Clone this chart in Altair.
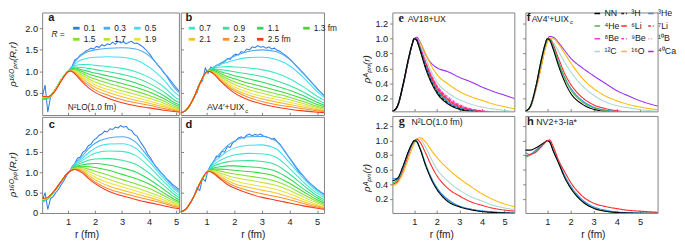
import altair as alt
import pandas as pd

FONT = "Liberation Sans"
SERIF = "Liberation Serif"

# ---------------- panels a-d : rho(R, r) for several R ----------------
R_VALUES = ["0.1", "0.3", "0.5", "0.7", "0.9", "1.1", "1.3", "1.5", "1.7", "1.9", "2.1", "2.3", "2.5"]
R_COLORS = ["#2e7be6", "#4aaaf2", "#3ee0f0", "#3ee8c8", "#38e09a", "#30d862", "#3ed838",
            "#7ee032", "#bce434", "#eee23a", "#f7c030", "#f6902c", "#f03c1e"]

FAN_GRID = [0.05, 0.25, 0.5, 0.75, 1.0, 1.1, 1.25, 1.5, 1.75, 2.0, 2.5, 3.0, 3.5, 4.0, 4.5, 5.0, 5.3]

PN_N2LO = {  # panel a
    "0.3": [0.36, 0.37, 0.55, 0.81, 1.00, 1.05, 1.22, 1.38, 1.46, 1.50, 1.54, 1.55, 1.52, 1.36, 1.02, 0.57, 0.43],
    "0.5": [0.35, 0.37, 0.55, 0.81, 1.00, 1.05, 1.17, 1.27, 1.31, 1.33, 1.34, 1.33, 1.27, 1.10, 0.83, 0.48, 0.36],
    "0.7": [0.35, 0.37, 0.55, 0.81, 1.00, 1.04, 1.13, 1.16, 1.16, 1.14, 1.11, 1.07, 0.99, 0.86, 0.66, 0.38, 0.29],
    "0.9": [0.35, 0.37, 0.55, 0.81, 1.00, 1.04, 1.10, 1.09, 1.07, 1.04, 0.99, 0.93, 0.85, 0.72, 0.54, 0.31, 0.23],
    "1.1": [0.36, 0.38, 0.55, 0.81, 1.00, 1.03, 1.08, 1.04, 1.00, 0.96, 0.89, 0.82, 0.73, 0.61, 0.45, 0.25, 0.18],
    "1.3": [0.37, 0.38, 0.55, 0.81, 1.00, 1.03, 1.06, 1.00, 0.94, 0.89, 0.80, 0.72, 0.63, 0.52, 0.38, 0.21, 0.15],
    "1.5": [0.38, 0.39, 0.54, 0.80, 1.00, 1.02, 1.04, 0.96, 0.88, 0.82, 0.72, 0.63, 0.54, 0.44, 0.32, 0.17, 0.12],
    "1.7": [0.39, 0.39, 0.54, 0.80, 0.99, 1.02, 1.02, 0.92, 0.83, 0.75, 0.64, 0.55, 0.46, 0.37, 0.27, 0.14, 0.10],
    "1.9": [0.40, 0.40, 0.54, 0.79, 0.99, 1.02, 1.00, 0.88, 0.78, 0.69, 0.57, 0.48, 0.39, 0.31, 0.22, 0.12, 0.08],
    "2.1": [0.41, 0.40, 0.53, 0.79, 0.99, 1.01, 0.98, 0.85, 0.73, 0.63, 0.51, 0.41, 0.33, 0.26, 0.18, 0.10, 0.07],
    "2.3": [0.41, 0.41, 0.53, 0.78, 0.99, 1.01, 0.96, 0.81, 0.68, 0.57, 0.44, 0.34, 0.27, 0.21, 0.14, 0.08, 0.06],
    "2.5": [0.42, 0.41, 0.53, 0.78, 0.99, 1.01, 0.94, 0.77, 0.62, 0.51, 0.37, 0.27, 0.20, 0.15, 0.10, 0.06, 0.05],
}

PN_AV4 = {  # panel b
    "0.3": [0.03, 0.09, 0.34, 0.71, 0.99, 1.05, 1.10, 1.19, 1.28, 1.35, 1.46, 1.50, 1.46, 1.28, 0.96, 0.60, 0.41],
    "0.5": [0.03, 0.09, 0.34, 0.71, 0.99, 1.04, 1.09, 1.16, 1.21, 1.26, 1.32, 1.33, 1.28, 1.13, 0.86, 0.53, 0.37],
    "0.7": [0.03, 0.09, 0.34, 0.71, 0.99, 1.03, 1.08, 1.10, 1.11, 1.10, 1.08, 1.04, 0.96, 0.83, 0.64, 0.42, 0.31],
    "0.9": [0.03, 0.09, 0.34, 0.71, 0.99, 1.03, 1.06, 1.04, 1.02, 0.99, 0.94, 0.88, 0.79, 0.67, 0.52, 0.34, 0.25],
    "1.1": [0.03, 0.09, 0.34, 0.71, 0.99, 1.02, 1.04, 0.99, 0.95, 0.90, 0.83, 0.75, 0.66, 0.56, 0.43, 0.28, 0.20],
    "1.3": [0.03, 0.09, 0.34, 0.71, 0.99, 1.02, 1.02, 0.95, 0.88, 0.83, 0.73, 0.65, 0.56, 0.47, 0.36, 0.23, 0.17],
    "1.5": [0.03, 0.09, 0.34, 0.71, 0.99, 1.01, 1.00, 0.91, 0.83, 0.76, 0.65, 0.56, 0.48, 0.40, 0.30, 0.19, 0.14],
    "1.7": [0.03, 0.09, 0.34, 0.71, 0.99, 1.01, 0.98, 0.88, 0.78, 0.70, 0.58, 0.49, 0.41, 0.34, 0.25, 0.16, 0.11],
    "1.9": [0.03, 0.09, 0.34, 0.71, 0.99, 1.01, 0.97, 0.85, 0.74, 0.64, 0.51, 0.42, 0.35, 0.28, 0.21, 0.13, 0.09],
    "2.1": [0.03, 0.09, 0.34, 0.71, 0.99, 1.00, 0.96, 0.82, 0.70, 0.59, 0.45, 0.36, 0.29, 0.23, 0.17, 0.11, 0.08],
    "2.3": [0.03, 0.09, 0.34, 0.71, 0.99, 1.00, 0.95, 0.79, 0.66, 0.55, 0.40, 0.30, 0.23, 0.18, 0.13, 0.08, 0.06],
    "2.5": [0.03, 0.09, 0.34, 0.71, 0.99, 1.00, 0.94, 0.77, 0.62, 0.50, 0.34, 0.24, 0.17, 0.12, 0.08, 0.05, 0.04],
}

PP_N2LO = {  # panel c
    "0.3": [0.26, 0.34, 0.53, 0.77, 1.00, 1.07, 1.22, 1.38, 1.58, 1.72, 1.85, 1.88, 1.75, 1.35, 0.95, 0.58, 0.47],
    "0.5": [0.27, 0.35, 0.53, 0.77, 1.00, 1.06, 1.20, 1.33, 1.48, 1.60, 1.70, 1.71, 1.60, 1.27, 0.88, 0.54, 0.42],
    "0.7": [0.28, 0.35, 0.54, 0.77, 1.00, 1.06, 1.18, 1.28, 1.39, 1.47, 1.53, 1.52, 1.42, 1.14, 0.80, 0.48, 0.37],
    "0.9": [0.29, 0.36, 0.54, 0.77, 1.00, 1.05, 1.16, 1.23, 1.30, 1.33, 1.34, 1.30, 1.20, 0.98, 0.70, 0.42, 0.32],
    "1.1": [0.30, 0.36, 0.54, 0.77, 1.00, 1.05, 1.14, 1.18, 1.21, 1.22, 1.18, 1.11, 1.01, 0.83, 0.60, 0.36, 0.27],
    "1.3": [0.31, 0.36, 0.54, 0.77, 1.00, 1.05, 1.12, 1.15, 1.14, 1.12, 1.05, 0.95, 0.85, 0.71, 0.51, 0.31, 0.23],
    "1.5": [0.32, 0.37, 0.54, 0.78, 1.00, 1.05, 1.11, 1.12, 1.08, 1.03, 0.93, 0.82, 0.72, 0.60, 0.44, 0.27, 0.20],
    "1.7": [0.33, 0.37, 0.55, 0.78, 0.99, 1.05, 1.10, 1.09, 1.03, 0.95, 0.83, 0.72, 0.62, 0.51, 0.38, 0.23, 0.17],
    "1.9": [0.33, 0.37, 0.55, 0.78, 0.99, 1.04, 1.09, 1.07, 0.98, 0.88, 0.74, 0.64, 0.54, 0.44, 0.33, 0.20, 0.15],
    "2.1": [0.34, 0.38, 0.55, 0.78, 0.99, 1.04, 1.08, 1.05, 0.93, 0.82, 0.66, 0.56, 0.47, 0.38, 0.28, 0.17, 0.13],
    "2.3": [0.35, 0.38, 0.55, 0.78, 0.99, 1.04, 1.08, 1.03, 0.89, 0.76, 0.59, 0.49, 0.40, 0.32, 0.24, 0.14, 0.11],
    "2.5": [0.35, 0.38, 0.55, 0.78, 0.99, 1.04, 1.07, 1.00, 0.85, 0.72, 0.53, 0.42, 0.33, 0.25, 0.18, 0.11, 0.09],
}

PP_AV4 = {  # panel d
    "0.3": [0.02, 0.09, 0.35, 0.72, 1.00, 1.09, 1.28, 1.48, 1.66, 1.77, 1.88, 1.89, 1.78, 1.36, 0.91, 0.58, 0.43],
    "0.5": [0.02, 0.09, 0.35, 0.72, 1.00, 1.08, 1.24, 1.39, 1.52, 1.60, 1.67, 1.68, 1.59, 1.24, 0.85, 0.53, 0.40],
    "0.7": [0.02, 0.09, 0.35, 0.72, 1.00, 1.07, 1.19, 1.30, 1.38, 1.43, 1.47, 1.46, 1.38, 1.10, 0.76, 0.48, 0.36],
    "0.9": [0.02, 0.09, 0.35, 0.72, 1.00, 1.06, 1.15, 1.22, 1.26, 1.28, 1.29, 1.27, 1.19, 0.96, 0.68, 0.42, 0.31],
    "1.1": [0.02, 0.09, 0.35, 0.72, 1.00, 1.05, 1.11, 1.14, 1.16, 1.16, 1.14, 1.11, 1.03, 0.84, 0.59, 0.37, 0.26],
    "1.3": [0.02, 0.09, 0.35, 0.72, 1.00, 1.05, 1.08, 1.08, 1.07, 1.05, 1.02, 0.98, 0.90, 0.73, 0.52, 0.32, 0.22],
    "1.5": [0.02, 0.09, 0.35, 0.72, 1.00, 1.04, 1.06, 1.03, 0.99, 0.96, 0.91, 0.86, 0.78, 0.64, 0.45, 0.28, 0.19],
    "1.7": [0.02, 0.09, 0.35, 0.72, 1.00, 1.04, 1.04, 0.98, 0.92, 0.87, 0.81, 0.75, 0.68, 0.55, 0.39, 0.24, 0.16],
    "1.9": [0.02, 0.09, 0.35, 0.72, 1.00, 1.03, 1.02, 0.94, 0.86, 0.79, 0.71, 0.65, 0.58, 0.47, 0.33, 0.20, 0.14],
    "2.1": [0.02, 0.09, 0.35, 0.72, 1.00, 1.03, 1.00, 0.90, 0.80, 0.72, 0.63, 0.56, 0.49, 0.39, 0.28, 0.17, 0.12],
    "2.3": [0.02, 0.09, 0.35, 0.72, 1.00, 1.03, 0.99, 0.86, 0.75, 0.66, 0.55, 0.47, 0.40, 0.32, 0.23, 0.14, 0.10],
    "2.5": [0.02, 0.09, 0.35, 0.72, 1.00, 1.02, 0.97, 0.83, 0.70, 0.61, 0.48, 0.38, 0.31, 0.24, 0.17, 0.11, 0.08],
}

# the R = 0.1 fm curves are noisy (Monte Carlo): finer grid
NOISY_GRID = [0.05, 0.15, 0.25, 0.35, 0.45, 0.55, 0.65, 0.75, 0.85, 0.95, 1.05, 1.15, 1.25, 1.35,
              1.45, 1.55, 1.65, 1.75, 1.85, 1.95, 2.05, 2.15, 2.25, 2.35, 2.45, 2.55, 2.65, 2.75,
              2.85, 2.95, 3.05, 3.15, 3.25, 3.35, 3.45, 3.55, 3.65, 3.75, 3.85, 3.95, 4.05, 4.15,
              4.25, 4.35, 4.45, 4.55, 4.65, 4.75, 4.85, 4.95, 5.05, 5.15, 5.25]
NOISY_A = [0.42, 0.68, 0.05, 0.40, 0.50, 0.60, 0.68, 0.80, 0.90, 0.98, 1.04, 1.12, 1.27, 1.30, 1.38,
           1.42, 1.47, 1.50, 1.54, 1.52, 1.58, 1.56, 1.62, 1.59, 1.64, 1.62, 1.68, 1.63, 1.70, 1.66,
           1.69, 1.64, 1.68, 1.70, 1.65, 1.66, 1.62, 1.58, 1.52, 1.45, 1.38, 1.28, 1.20, 1.12, 1.05,
           0.96, 0.90, 0.82, 0.74, 0.66, 0.58, 0.52, 0.46]
NOISY_B = [0.04, 0.06, 0.10, 0.18, 0.28, 0.40, 0.50, 0.70, 0.78, 1.08, 0.95, 1.10, 1.06, 1.14, 1.13,
           1.20, 1.22, 1.30, 1.28, 1.36, 1.40, 1.38, 1.46, 1.44, 1.52, 1.50, 1.57, 1.55, 1.60, 1.56,
           1.58, 1.54, 1.57, 1.52, 1.54, 1.49, 1.47, 1.42, 1.38, 1.32, 1.26, 1.19, 1.12, 1.05, 0.98,
           0.92, 0.85, 0.78, 0.70, 0.64, 0.56, 0.50, 0.44]
NOISY_C = [0.30, 0.50, 0.08, 0.35, 0.40, 0.50, 0.58, 0.70, 0.80, 0.92, 1.02, 1.14, 1.22, 1.35, 1.38,
           1.50, 1.55, 1.66, 1.70, 1.80, 1.84, 1.92, 1.95, 2.02, 2.00, 2.08, 2.06, 2.12, 2.10, 2.16,
           2.12, 2.14, 2.06, 2.04, 1.94, 1.90, 1.78, 1.68, 1.58, 1.45, 1.36, 1.24, 1.14, 1.06, 0.98,
           0.92, 0.84, 0.78, 0.71, 0.66, 0.60, 0.56, 0.50]
NOISY_D = [0.02, 0.05, 0.10, 0.18, 0.30, 0.42, 0.62, 0.55, 0.85, 0.78, 1.05, 1.18, 1.26, 1.40, 1.38,
           1.52, 1.50, 1.64, 1.62, 1.74, 1.78, 1.85, 1.88, 1.84, 1.92, 1.95, 1.90, 1.94, 1.92, 1.95,
           1.90, 1.88, 1.86, 1.82, 1.84, 1.76, 1.70, 1.60, 1.50, 1.40, 1.30, 1.20, 1.10, 1.00, 0.95,
           0.86, 0.78, 0.72, 0.66, 0.60, 0.55, 0.50, 0.46]

# ---------------- panels e-h : rho^A(r) for nuclei ----------------
NUC = ["NN", "³H", "³He", "⁴He", "⁶Li", "⁷Li", "⁸Be", "⁹Be", "¹⁰B", "¹²C", "¹⁶O", "⁴⁰Ca"]
NUC_COLORS = ["#000000", "#222222", "#3590f0", "#45b845", "#ff2a2a", "#ff2a2a",
              "#ff3ccf", "#ff3ccf", "#f7a6dc", "#a9d9d0", "#ffba08", "#9a30f0"]
NUC_DASH = [[1, 0], [3, 2], [1, 0], [1, 0], [1, 0], [3, 2],
            [1, 0], [3, 2], [1.5, 1.5], [1, 0], [1, 0], [1, 0]]

NUC_GRID = [0.03, 0.25, 0.5, 0.75, 0.9, 1.0, 1.1, 1.25, 1.5, 1.75, 2.0, 2.5, 3.0, 3.5, 4.0, 4.5, 5.0, 5.5, 5.9]

E_AV18 = {
    "⁴⁰Ca": [0.02, 0.08, 0.36, 0.72, 0.91, 1.00, 1.02, 0.96, 0.79, 0.67, 0.61, 0.555, 0.48, 0.42, 0.35, 0.29, 0.24, 0.19, 0.16],
    "¹⁶O": [0.02, 0.08, 0.36, 0.72, 0.91, 0.99, 1.00, 0.95, 0.80, 0.64, 0.52, 0.39, 0.29, 0.22, 0.17, 0.12, 0.085, 0.055, 0.045],
    "¹²C": [0.02, 0.08, 0.37, 0.73, 0.91, 1.00, 1.00, 0.92, 0.74, 0.56, 0.42, 0.27, 0.18, 0.12, 0.08, 0.055, 0.035, 0.02, 0.015],
    "¹⁰B": [0.02, 0.09, 0.37, 0.73, 0.92, 1.00, 1.00, 0.90, 0.70, 0.52, 0.38, 0.22, 0.12, 0.06, 0.03, 0.015, 0.008, 0.0, 0.0],
    "⁹Be": [0.02, 0.09, 0.37, 0.73, 0.92, 1.00, 1.00, 0.89, 0.69, 0.51, 0.37, 0.21, 0.11, 0.055, 0.03, 0.014, 0.007, 0.0, 0.0],
    "⁸Be": [0.02, 0.09, 0.37, 0.73, 0.92, 1.00, 1.00, 0.89, 0.68, 0.50, 0.36, 0.19, 0.10, 0.05, 0.025, 0.012, 0.006, 0.0, 0.0],
    "⁷Li": [0.02, 0.09, 0.37, 0.73, 0.92, 1.00, 0.99, 0.88, 0.67, 0.49, 0.35, 0.18, 0.09, 0.045, 0.022, 0.011, 0.005, 0.0, 0.0],
    "⁶Li": [0.02, 0.09, 0.38, 0.74, 0.92, 1.00, 0.99, 0.88, 0.66, 0.47, 0.33, 0.17, 0.08, 0.04, 0.02, 0.01, 0.005, 0.0, 0.0],
    "⁴He": [0.02, 0.09, 0.38, 0.74, 0.92, 1.00, 0.99, 0.86, 0.63, 0.44, 0.30, 0.14, 0.065, 0.03, 0.012, 0.005, 0.0, 0.0, 0.0],
    "³He": [0.02, 0.09, 0.38, 0.74, 0.92, 1.00, 0.99, 0.87, 0.64, 0.45, 0.31, 0.15, 0.07, 0.035, 0.015, 0.007, 0.0, 0.0, 0.0],
    "³H": [0.02, 0.09, 0.38, 0.74, 0.92, 1.00, 0.98, 0.86, 0.62, 0.43, 0.29, 0.13, 0.06, 0.03, 0.012, 0.005, 0.0, 0.0, 0.0],
    "NN": [0.02, 0.09, 0.38, 0.74, 0.92, 1.00, 0.98, 0.85, 0.60, 0.41, 0.27, 0.12, 0.05, 0.02, 0.01, 0.005, 0.0, 0.0, 0.0],
}

F_AV4 = {
    "⁴⁰Ca": [0.02, 0.07, 0.31, 0.65, 0.87, 0.98, 1.03, 1.02, 0.94, 0.84, 0.74, 0.61, 0.50, 0.40, 0.30, 0.23, 0.165, 0.115, 0.085],
    "¹⁶O": [0.02, 0.07, 0.31, 0.64, 0.85, 0.95, 1.00, 1.00, 0.92, 0.80, 0.68, 0.47, 0.33, 0.23, 0.165, 0.115, 0.08, 0.055, 0.04],
    "¹²C": [0.02, 0.08, 0.34, 0.71, 0.90, 0.99, 1.00, 0.95, 0.82, 0.68, 0.56, 0.37, 0.24, 0.15, 0.10, 0.07, 0.045, 0.03, 0.02],
    "⁶Li": [0.02, 0.08, 0.34, 0.72, 0.91, 1.00, 1.00, 0.92, 0.72, 0.53, 0.39, 0.21, 0.11, 0.06, 0.03, 0.015, 0.008, 0.0, 0.0],
    "³He": [0.02, 0.08, 0.35, 0.73, 0.92, 1.00, 0.99, 0.89, 0.67, 0.48, 0.34, 0.17, 0.08, 0.04, 0.02, 0.01, 0.005, 0.0, 0.0],
    "⁴He": [0.02, 0.08, 0.35, 0.73, 0.92, 1.00, 0.99, 0.88, 0.66, 0.47, 0.32, 0.15, 0.07, 0.035, 0.015, 0.007, 0.0, 0.0, 0.0],
    "NN": [0.02, 0.08, 0.35, 0.73, 0.92, 1.00, 0.98, 0.86, 0.62, 0.42, 0.27, 0.12, 0.05, 0.02, 0.01, 0.0, 0.0, 0.0, 0.0],
}

G_N2LO = {
    "¹⁶O": [0.37, 0.42, 0.55, 0.76, 0.89, 0.96, 1.02, 1.04, 0.98, 0.87, 0.77, 0.61, 0.48, 0.37, 0.27, 0.19, 0.13, 0.09, 0.07],
    "¹²C": [0.40, 0.44, 0.59, 0.81, 0.93, 0.99, 1.02, 1.02, 0.91, 0.75, 0.61, 0.44, 0.32, 0.23, 0.17, 0.11, 0.075, 0.05, 0.035],
    "⁶Li": [0.40, 0.44, 0.60, 0.82, 0.94, 0.99, 1.02, 0.98, 0.83, 0.66, 0.52, 0.34, 0.24, 0.16, 0.11, 0.07, 0.045, 0.03, 0.02],
    "⁴He": [0.42, 0.46, 0.63, 0.85, 0.95, 1.00, 0.99, 0.90, 0.68, 0.49, 0.35, 0.18, 0.10, 0.055, 0.03, 0.015, 0.008, 0.0, 0.0],
    "³He": [0.48, 0.48, 0.64, 0.85, 0.95, 1.00, 0.99, 0.90, 0.67, 0.49, 0.35, 0.19, 0.10, 0.06, 0.035, 0.02, 0.01, 0.005, 0.0],
    "NN": [0.45, 0.48, 0.65, 0.86, 0.96, 1.00, 0.99, 0.89, 0.66, 0.47, 0.33, 0.16, 0.09, 0.05, 0.025, 0.012, 0.006, 0.0, 0.0],
}

H_NV2 = {
    "⁴He": [0.77, 0.80, 0.86, 0.93, 0.98, 1.00, 0.99, 0.87, 0.69, 0.50, 0.36, 0.17, 0.075, 0.03, 0.012, 0.005, 0.0, 0.0, 0.0],
    "³He": [0.84, 0.81, 0.87, 0.94, 0.98, 1.00, 0.99, 0.88, 0.70, 0.52, 0.38, 0.19, 0.09, 0.045, 0.02, 0.01, 0.005, 0.0, 0.0],
    "NN": [0.87, 0.87, 0.90, 0.95, 0.98, 1.00, 0.98, 0.86, 0.68, 0.49, 0.35, 0.165, 0.07, 0.03, 0.012, 0.005, 0.0, 0.0, 0.0],
    "⁶Li": [0.79, 0.81, 0.84, 0.92, 0.97, 1.00, 1.01, 0.92, 0.72, 0.57, 0.43, 0.24, 0.14, 0.095, 0.065, 0.042, 0.03, 0.02, 0.012],
}

R_TICKS = [1, 2, 3, 4, 5]
FAN_YTICKS_A = [0.5, 1.0, 1.5, 2.0]
FAN_YTICKS_C = [0, 0.5, 1.0, 1.5, 2.0]
NUC_YTICKS = [0.2, 0.4, 0.6, 0.8, 1.0, 1.2]

INK = "#1a1a1a"
LEG_F_Y = -4  # legend f starts slightly above the panel top; page padding compensates


def note(text, x, y, size=9.5, weight="normal", font=FONT, style="normal"):
    return alt.Chart(pd.DataFrame({"t": [text]})).mark_text(
        align="left", baseline="alphabetic", fontSize=size, fontWeight=weight,
        font=font, fontStyle=style, color=INK
    ).encode(x=alt.value(x), y=alt.value(y), text="t:N")


def y_left(values, expr, title, pad, title_y):
    return alt.Axis(values=values, labelExpr=expr, title=title, tickSize=3, labelPadding=2,
                    titlePadding=pad, titleY=title_y, titleFontStyle="italic", titleFontWeight="normal",
                    titleFontSize=10.5, labelFontSize=10, domain=False, grid=False)


def y_inner(values):
    return alt.Axis(values=values, labels=False, title=None, tickSize=3, offset=-3, domain=False, grid=False)


def y_outer(values):
    return alt.Axis(values=values, labels=False, title=None, tickSize=3, domain=False, grid=False)


def x_top():
    return alt.Axis(values=R_TICKS, labels=False, title=None, tickSize=3, offset=-3, domain=False, grid=False)


def x_bottom(title_x):
    return alt.Axis(values=R_TICKS, format="d", title="r (fm)", tickSize=3, offset=-3, labelPadding=5,
                    titlePadding=3, titleX=title_x, titleFontSize=11, titleFontWeight="normal",
                    labelFontSize=10, domain=False, grid=False)


def fan_panel(curves, noisy, xdom, ydom, w, h, xaxis, yaxis, legend, notes):
    xs = alt.X("r:Q", scale=alt.Scale(domain=xdom, nice=False, zero=False), axis=xaxis)
    ys = alt.Y("v:Q", scale=alt.Scale(domain=ydom, nice=False, zero=False), axis=yaxis)
    col = alt.Color("R:N", scale=alt.Scale(domain=R_VALUES, range=R_COLORS), legend=legend)
    noise_df = pd.DataFrame({"r": NOISY_GRID, "v": noisy, "R": R_VALUES[0]})
    rows = []
    for R in R_VALUES[1:]:
        for r, v in zip(FAN_GRID, curves[R]):
            rows.append({"r": r, "v": v, "R": R})
    noisy_line = alt.Chart(noise_df).mark_line(strokeWidth=1.1, clip=True).encode(x=xs, y=ys, color=col)
    lines = alt.Chart(pd.DataFrame(rows)).mark_line(strokeWidth=1.15, clip=True, interpolate="monotone").encode(
        x=xs, y=ys, color=col)
    return alt.layer(noisy_line, lines, *notes).properties(width=w, height=h)


def nuc_panel(curves, xdom, ydom, w, h, xaxis, yaxis, legend, notes):
    rows = []
    for name, vals in curves.items():
        for r, v in zip(NUC_GRID, vals):
            rows.append({"r": r, "v": v, "nuc": name})
    lines = alt.Chart(pd.DataFrame(rows)).mark_line(strokeWidth=1.2, clip=True, interpolate="monotone").encode(
        x=alt.X("r:Q", scale=alt.Scale(domain=xdom, nice=False, zero=False), axis=xaxis),
        y=alt.Y("v:Q", scale=alt.Scale(domain=ydom, nice=False, zero=False), axis=yaxis),
        color=alt.Color("nuc:N", scale=alt.Scale(domain=NUC, range=NUC_COLORS), legend=legend),
        strokeDash=alt.StrokeDash("nuc:N", scale=alt.Scale(domain=NUC, range=NUC_DASH), legend=legend),
    )
    return alt.layer(lines, *notes).properties(width=w, height=h)


LEG_A = alt.Legend(values=["0.1", "0.3", "0.5", "1.5", "1.7", "1.9"], columns=3, direction="horizontal",
                   orient="none", legendX=10, legendY=12, title="R =", titleOrient="left", titleAnchor="middle",
                   titleFontSize=9, titleFontStyle="italic", titleFontWeight="normal", titlePadding=7,
                   labelFontSize=9, symbolType="stroke", symbolSize=49, symbolStrokeWidth=3,
                   labelOffset=3, columnPadding=2, rowPadding=0)
LEG_B = alt.Legend(values=["0.7", "0.9", "1.1", "1.3", "2.1", "2.3", "2.5"], columns=4, direction="horizontal",
                   orient="none", legendX=7, legendY=12, title=None,
                   labelExpr="(datum.label == '1.3' || datum.label == '2.5') ? datum.label + ' fm' : datum.label",
                   labelFontSize=9, symbolType="stroke", symbolSize=49, symbolStrokeWidth=3,
                   labelOffset=3, columnPadding=6, rowPadding=0)
LEG_F = alt.Legend(title=None, orient="none", legendX=73, legendY=LEG_F_Y, columns=3, direction="horizontal",
                   symbolType="stroke", symbolSize=36, symbolStrokeWidth=1.6,
                   labelFontSize=9.5, labelOffset=3, columnPadding=-16, rowPadding=2.8)

FMT1 = "format(datum.value, '.1f')"
FMT0 = "datum.value == 0 ? '0' : format(datum.value, '.1f')"

AB_X = [0.043, 5.103]
BD_X = [0.064, 5.248]
EG_X = [0.03, 5.433]
FH_X = [0.055, 5.757]
AB_Y = [-0.017, 2.37]
CD_Y = [-0.007, 2.373]
EF_Y = [0.022, 1.353]
GH_Y = [0.005, 1.339]

pa = fan_panel(PN_N2LO, NOISY_A, AB_X, AB_Y, 148, 111, x_top(),
               y_left(FAN_YTICKS_A, FMT1, "ρ¹⁶ᴼₚₙ(R,r)", 7.5, 55.5), LEG_A,
               [note("a", 6.5, 9.5, 12, "bold"), note("N²LO(1.0 fm)", 27.7, 106, 9)])
pb = fan_panel(PN_AV4, NOISY_B, BD_X, AB_Y, 155, 111, x_top(), y_inner(FAN_YTICKS_A), LEG_B,
               [note("b", 5, 9.7, 12, "bold"), note("AV4′+UIX", 28.4, 106, 9.5), note("c", 69.8, 108.5, 6.5)])
pc = fan_panel(PP_N2LO, NOISY_C, AB_X, CD_Y, 148, 104, x_bottom(48),
               y_left(FAN_YTICKS_C, FMT0, "ρ¹⁶ᴼₚₚ(R,r)", 7.5, 62), None,
               [note("c", 7, 12, 12, "bold")])
pd_ = fan_panel(PP_AV4, NOISY_D, BD_X, CD_Y, 155, 104, x_bottom(78), y_inner(FAN_YTICKS_C), None,
                [note("d", 5, 12, 12, "bold")])

pe = nuc_panel(E_AV18, EG_X, EF_Y, 132, 107, x_top(),
               y_left(NUC_YTICKS, FMT1, "ρᴬₚₙ(r)", 4, 61), None,
               [note("e", 6.7, 10, 13, "bold", SERIF), note("AV18+UX", 16.7, 10, 9.5)])
pf = nuc_panel(F_AV4, FH_X, EF_Y, 143, 107, x_top(), y_outer(NUC_YTICKS), LEG_F,
               [note("f", 1.5, 9.7, 12, "bold"), note("AV4′+UIX", 6.7, 10, 9.5), note("c", 48.1, 12.5, 6.5)])
pg = nuc_panel(G_N2LO, EG_X, GH_Y, 132, 105, x_bottom(53),
               y_left(NUC_YTICKS, FMT1, "ρᴬₚₙ(r)", 4, 66.5), None,
               [note("g", 7, 9.5, 13, "bold", SERIF), note("N²LO(1.0 fm)", 20.7, 9.5, 9.5)])
ph = nuc_panel(H_NV2, FH_X, GH_Y, 143, 105, x_bottom(73), y_outer(NUC_YTICKS), None,
               [note("h", 1.7, 9.7, 12, "bold"), note("NV2+3-Ia*", 11.7, 9.5, 9.5)])


def indep(c):
    return c.resolve_scale(color="independent", strokeDash="independent").resolve_legend(
        color="independent", strokeDash="independent")


left = indep(alt.vconcat(indep(alt.hconcat(pa, pb, spacing=0)),
                         indep(alt.hconcat(pc, pd_, spacing=0)), spacing=0))
right = indep(alt.vconcat(indep(alt.hconcat(pe, pf, spacing=7)),
                          indep(alt.hconcat(pg, ph, spacing=7)), spacing=3))

chart = indep(alt.hconcat(left, right, spacing=24)).properties(
    padding={"left": 0, "top": -6 + LEG_F_Y, "right": 0, "bottom": -2}
).configure(font=FONT).configure_view(stroke="#7a7a7a", strokeWidth=1).configure_axis(
    labelFont=FONT, titleFont=FONT, labelColor=INK, titleColor=INK, tickColor="#7a7a7a"
).configure_legend(labelFont=FONT, titleFont=FONT, labelColor=INK, titleColor=INK)

chart.save("out.html", embed_options={"renderer": "svg", "actions": False})
